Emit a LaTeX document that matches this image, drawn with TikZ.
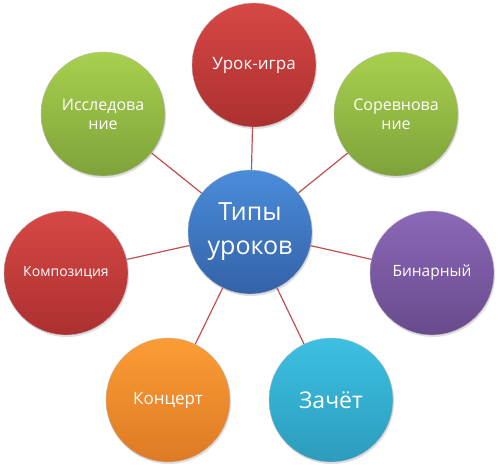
\documentclass[tikz,border=0pt]{standalone}
\usepackage{fontspec}
\setmainfont{Open Sans}
\usetikzlibrary{shadows}
\definecolor{redtop}{RGB}{214,72,69}
\definecolor{redbot}{RGB}{172,48,48}
\definecolor{greentop}{RGB}{168,208,78}
\definecolor{greenbot}{RGB}{126,162,58}
\definecolor{bluetop}{RGB}{74,140,218}
\definecolor{bluebot}{RGB}{52,98,168}
\definecolor{purpletop}{RGB}{140,104,184}
\definecolor{purplebot}{RGB}{104,74,140}
\definecolor{cyantop}{RGB}{60,192,226}
\definecolor{cyanbot}{RGB}{44,156,188}
\definecolor{orangetop}{RGB}{252,156,54}
\definecolor{orangebot}{RGB}{222,122,36}
\definecolor{spokered}{RGB}{192,80,77}
\begin{document}
\begin{tikzpicture}[x=1pt,y=1pt]

%
% Styles
%
\tikzstyle{ball}       = [circle,minimum size=124pt,inner sep=0pt,align=center,text=white,
                          draw=white!75!black,line width=0.4pt,
                          drop shadow={shadow xshift=1pt,shadow yshift=-2pt,opacity=0.25}]
\tikzstyle{redball}    = [ball,top color=redtop,bottom color=redbot]
\tikzstyle{greenball}  = [ball,top color=greentop,bottom color=greenbot]
\tikzstyle{blueball}   = [ball,top color=bluetop,bottom color=bluebot]
\tikzstyle{purpleball} = [ball,top color=purpletop,bottom color=purplebot]
\tikzstyle{cyanball}   = [ball,top color=cyantop,bottom color=cyanbot]
\tikzstyle{orangeball} = [ball,top color=orangetop,bottom color=orangebot]
\tikzstyle{spoke}      = [draw=spokered,line width=1.2pt]

\useasboundingbox (0,0) rectangle (498,-468);

\node[blueball,font=\fontsize{25}{34}\selectfont]   (typy)    at (250,-232) {Типы\\уроков};
\node[redball,font=\fontsize{17}{20}\selectfont]    (igra)    at (254,-65)  {Урок-игра};
\node[greenball,font=\fontsize{16}{19}\selectfont]  (sorev)   at (396,-114) {Соревнова\\ние};
\node[purpleball,font=\fontsize{15.5}{19}\selectfont] (binar) at (432,-273) {Бинарный};
\node[cyanball,font=\fontsize{23}{28}\selectfont]   (zachet)  at (331,-400) {Зачёт};
\node[orangeball,font=\fontsize{17}{20}\selectfont] (koncert) at (168,-400) {Концерт};
\node[redball,font=\fontsize{14}{17}\selectfont]    (kompoz)  at (66,-273)  {Композиция};
\node[greenball,font=\fontsize{16}{19}\selectfont]  (issled)  at (103,-114) {Исследова\\ние};

\draw[spoke] (typy) -- (igra);
\draw[spoke] (typy) -- (sorev);
\draw[spoke] (typy) -- (binar);
\draw[spoke] (typy) -- (zachet);
\draw[spoke] (typy) -- (koncert);
\draw[spoke] (typy) -- (kompoz);
\draw[spoke] (typy) -- (issled);

\end{tikzpicture}
\end{document}
